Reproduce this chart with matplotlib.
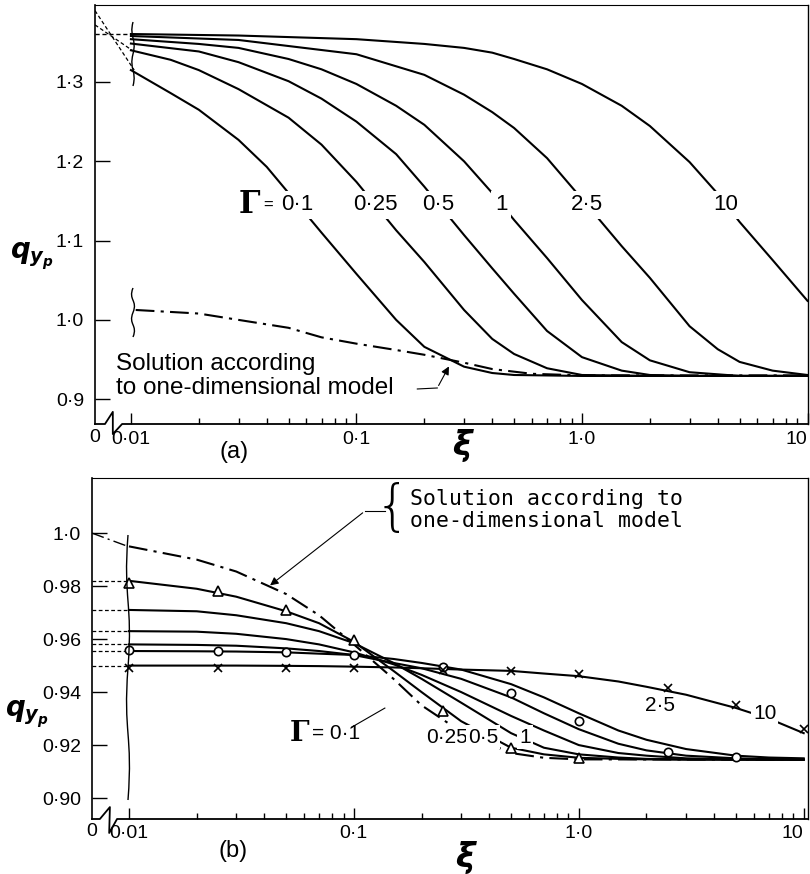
import matplotlib
matplotlib.use('Agg')
import matplotlib.pyplot as plt
from matplotlib.path import Path
from matplotlib.patches import PathPatch
from matplotlib import font_manager as fm
from matplotlib.transforms import blended_transform_factory

# ---------------- data: panel (a) ----------------
a_xi_g01 = [0.01, 0.015, 0.02, 0.03, 0.04, 0.05, 0.07, 0.1, 0.15, 0.2, 0.3, 0.4, 0.5, 1, 10]
a_q_g01 = [1.315, 1.286, 1.265, 1.227, 1.193, 1.160, 1.110, 1.058, 1.000, 0.966, 0.941, 0.933, 0.9305, 0.9293, 0.9293]

a_xi_g025 = [0.01, 0.015, 0.02, 0.03, 0.05, 0.07, 0.1, 0.15, 0.2, 0.3, 0.4, 0.5, 0.7, 1, 2, 10]
a_q_g025 = [1.340, 1.328, 1.315, 1.291, 1.255, 1.221, 1.174, 1.113, 1.073, 1.0125, 0.976, 0.957, 0.939, 0.9305, 0.9293, 0.9293]

a_xi_g05 = [0.01, 0.02, 0.03, 0.05, 0.07, 0.1, 0.15, 0.2, 0.3, 0.4, 0.5, 0.7, 1, 1.5, 2, 3, 10]
a_q_g05 = [1.3485, 1.3385, 1.325, 1.301, 1.279, 1.250, 1.209, 1.168, 1.107, 1.065, 1.033, 0.986, 0.953, 0.936, 0.9305, 0.9293, 0.9293]

a_xi_g1 = [0.01, 0.02, 0.03, 0.05, 0.07, 0.1, 0.15, 0.2, 0.3, 0.4, 0.5, 0.7, 1, 1.5, 2, 3, 5, 10]
a_q_g1 = [1.354, 1.348, 1.343, 1.329, 1.316, 1.2975, 1.270, 1.246, 1.200, 1.160, 1.126, 1.078, 1.025, 0.972, 0.949, 0.934, 0.9293, 0.9293]

a_xi_g25 = [0.01, 0.03, 0.1, 0.2, 0.3, 0.4, 0.5, 0.7, 1, 1.5, 2, 3, 4, 5, 7, 10]
a_q_g25 = [1.358, 1.353, 1.335, 1.309, 1.284, 1.262, 1.242, 1.204, 1.1525, 1.093, 1.053, 0.992, 0.963, 0.947, 0.936, 0.9305]

a_xi_g10 = [0.01, 0.03, 0.1, 0.2, 0.3, 0.4, 0.5, 0.7, 1, 1.5, 2, 3, 4, 5, 7, 10]
a_q_g10 = [1.3605, 1.3586, 1.354, 1.348, 1.343, 1.337, 1.329, 1.316, 1.2975, 1.270, 1.2445, 1.199, 1.159, 1.1235, 1.0755, 1.024]

a_gamma_labels = ['0·1', '0·25', '0·5', '1', '2·5', '10']
a_label_xi = [0.0548, 0.121, 0.231, 0.438, 1.05, 4.34]
a_label_q = 1.145

a_1d_xi = [0.0105, 0.02, 0.03, 0.05, 0.07, 0.1, 0.15, 0.2, 0.3, 0.4, 0.6, 1, 10]
a_1d_q = [1.0125, 1.008, 1.0, 0.99, 0.978, 0.970, 0.962, 0.956, 0.946, 0.938, 0.932, 0.930, 0.930]

a_yticks = [0.9, 1.0, 1.1, 1.2, 1.3]
a_yticklabels = ['0·9', '1·0', '1·1', '1·2', '1·3']

# ---------------- data: panel (b) ----------------
b_xi = [0.01, 0.02, 0.03, 0.05, 0.07, 0.1, 0.15, 0.2, 0.3, 0.5, 0.7, 1, 1.5, 2, 3, 5, 7, 10]
b_q_g01 = [0.982, 0.979, 0.976, 0.9705, 0.966, 0.959, 0.948, 0.940, 0.929, 0.919, 0.9165, 0.9152, 0.9148, 0.9146, 0.9145, 0.9145, 0.9145, 0.9145]
b_q_g025 = [0.971, 0.9705, 0.969, 0.966, 0.963, 0.9585, 0.951, 0.945, 0.936, 0.9245, 0.919, 0.9165, 0.9153, 0.9148, 0.9146, 0.9145, 0.9145, 0.9145]
b_q_g05 = [0.963, 0.9628, 0.962, 0.960, 0.958, 0.955, 0.9505, 0.9465, 0.940, 0.931, 0.9255, 0.920, 0.917, 0.916, 0.915, 0.9146, 0.9145, 0.9145]
b_q_g1 = [0.958, 0.9578, 0.9575, 0.9565, 0.9555, 0.954, 0.951, 0.949, 0.945, 0.938, 0.932, 0.926, 0.9205, 0.918, 0.916, 0.915, 0.9147, 0.9145]
b_q_g25 = [0.9555, 0.9554, 0.9553, 0.955, 0.9545, 0.954, 0.9525, 0.951, 0.9485, 0.943, 0.938, 0.932, 0.9255, 0.922, 0.9185, 0.916, 0.9153, 0.915]
b_q_g10 = [0.950, 0.950, 0.950, 0.9499, 0.9498, 0.9496, 0.9493, 0.949, 0.9485, 0.948, 0.947, 0.946, 0.944, 0.942, 0.939, 0.934, 0.930, 0.9245]

b_1d_xi = [0.01, 0.02, 0.03, 0.05, 0.07, 0.1, 0.15, 0.2, 0.3, 0.5, 0.7, 1, 10]
b_1d_q = [0.995, 0.990, 0.9855, 0.977, 0.969, 0.958, 0.945, 0.935, 0.925, 0.917, 0.9152, 0.9146, 0.9145]
b_1d_q0 = 1.0

b_tri_xi = [0.01, 0.025, 0.05, 0.1, 0.25, 0.5, 1.0]
b_tri_q = [0.981, 0.978, 0.971, 0.9595, 0.933, 0.919, 0.915]
b_circ_xi = [0.01, 0.025, 0.05, 0.1, 0.25, 0.5, 1.0, 2.5, 5]
b_circ_q = [0.956, 0.9555, 0.955, 0.954, 0.9495, 0.9395, 0.929, 0.9175, 0.9155]
b_cross_xi = [0.01, 0.025, 0.05, 0.1, 0.25, 0.5, 1.0, 2.5, 5, 10]
b_cross_q = [0.949, 0.949, 0.949, 0.949, 0.9485, 0.948, 0.947, 0.9415, 0.935, 0.926]

b_yticks = [0.90, 0.92, 0.94, 0.96, 0.98, 1.0]
b_yticklabels = ['0·90', '0·92', '0·94', '0·96', '0·98', '1·0']

x_major = [0.01, 0.1, 1, 10]
x_major_labels = ['0·01', '0·1', '1·0', '10']
x_minor = [k * d for d in (0.01, 0.1, 1) for k in range(2, 10)]

# ---------------- style ----------------
names = {f.name for f in fm.fontManager.ttflist}
TEXTFONT = 'Liberation Sans' if 'Liberation Sans' in names else 'DejaVu Sans'
MONOFONT = 'DejaVu Sans Mono' if 'DejaVu Sans Mono' in names else TEXTFONT
TICKFONT = TEXTFONT
plt.rcParams['font.family'] = ['DejaVu Sans']
plt.rcParams['mathtext.fontset'] = 'custom'
plt.rcParams['mathtext.it'] = 'DejaVu Sans:italic:bold'
plt.rcParams['mathtext.rm'] = 'DejaVu Sans'

W, H = 810, 874
fig = plt.figure(figsize=(W / 100, H / 100), dpi=100)


def fx(px):
    return px / W


def fy(py):
    return 1 - py / H


axA = fig.add_axes([fx(95), fy(424), (808 - 95) / W, (424 - 5) / H])
axB = fig.add_axes([fx(92), fy(819), (808 - 92) / W, (819 - 478) / H])

LW = 1.5
DASHDOT = (0, (9, 3, 1.5, 3))
TFS = 14

for ax, xl, yl in ((axA, (0.00693, 10.05), (0.8687, 1.3971)),
                   (axB, (0.00685, 10.45), (0.8921, 1.0208))):
    ax.set_xscale('log')
    ax.set_xlim(*xl)
    ax.set_ylim(*yl)
    ax.set_xticks(x_major)
    ax.set_xticklabels(x_major_labels, fontfamily=TICKFONT, fontsize=TFS)
    ax.get_xticklabels()[-1].set_horizontalalignment('right')
    ax.set_xticks(x_minor, minor=True)
    ax.tick_params(axis='x', which='major', direction='in', length=8, width=1, pad=4)
    ax.tick_params(axis='x', which='minor', direction='in', length=4, width=1)
    ax.tick_params(axis='y', which='both', direction='in', length=11, width=1, pad=8)
    ax.spines['bottom'].set_visible(False)
    ax.spines['left'].set_linewidth(1.2)
    ax.spines['top'].set_linewidth(0.8)
    ax.spines['right'].set_linewidth(1.0)
    ax.text(0, -0.012, '0', transform=ax.transAxes,
            ha='center', va='top', fontfamily=TICKFONT, fontsize=TFS)

axA.set_yticks(a_yticks)
axA.set_yticklabels(a_yticklabels, fontfamily=TICKFONT, fontsize=TFS)
axB.set_yticks(b_yticks)
axB.set_yticklabels(b_yticklabels, fontfamily=TICKFONT, fontsize=TFS)
axA.tick_params(axis='x', which='major', pad=5)

# axis break on bottom spine
axA.plot([0, 0.014, 0.025, 0.025, 0.038, 1], [0, 0, 0.029, -0.024, 0, 0],
         transform=axA.transAxes, color='black', lw=1.3, clip_on=False)
axB.plot([0, 0.011, 0.025, 0.024, 0.035, 1], [0, 0, 0.035, -0.041, 0, 0],
         transform=axB.transAxes, color='black', lw=1.3, clip_on=False)

# ---------------- panel (a) curves ----------------
a_series = [(a_xi_g01, a_q_g01), (a_xi_g025, a_q_g025), (a_xi_g05, a_q_g05),
            (a_xi_g1, a_q_g1), (a_xi_g25, a_q_g25), (a_xi_g10, a_q_g10)]
for xs, qs in a_series:
    axA.plot(xs, qs, color='black', lw=LW, zorder=2, solid_joinstyle='round')
axA.plot(a_1d_xi, a_1d_q, color='black', lw=LW, ls=DASHDOT, zorder=2)

for lab, xl in zip(a_gamma_labels, a_label_xi):
    axA.text(xl, a_label_q, lab, ha='center', va='center', fontfamily=TICKFONT, fontsize=16,
             zorder=4, bbox=dict(fc='white', ec='none', pad=2.5))
axA.text(0.0335, a_label_q, 'Γ', ha='center', va='center', fontfamily='DejaVu Serif',
         fontsize=22, fontweight='bold', zorder=4)
axA.text(0.0405, a_label_q, '=', ha='center', va='center', fontfamily=TICKFONT, fontsize=12, zorder=4)

# dashed extensions at top-left
tA = blended_transform_factory(axA.transAxes, axA.transData)
axA.plot([0, 0.05], [1.3605, 1.3605], transform=tA, color='black', lw=1.0, ls=(0, (3, 2)))
axA.plot([0, 0.055], [1.390, 1.315], transform=tA, color='black', lw=0.9, ls=(0, (3, 2)))
axA.plot([0, 0.052], [1.372, 1.340], transform=tA, color='black', lw=0.9, ls=(0, (3, 2)))


def squiggle(x0, y0, y1, amp, flip=1):
    # wavy vertical decoration drawn in figure pixel coordinates
    h = y1 - y0
    verts = [(x0, y0),
             (x0 - amp * flip, y0 + 0.25 * h), (x0 + amp * flip, y0 + 0.25 * h), (x0, y0 + 0.5 * h),
             (x0 - amp * flip, y0 + 0.75 * h), (x0 + amp * flip, y0 + 0.75 * h), (x0, y1)]
    verts = [(fx(a), fy(b)) for a, b in verts]
    codes = [Path.MOVETO] + [Path.CURVE4] * 6
    fig.patches.append(PathPatch(Path(verts, codes), transform=fig.transFigure,
                                 fill=False, lw=1.0, color='black'))


squiggle(133, 22, 86, 4)
squiggle(133, 288, 337, 5)
squiggle(128, 535, 800, 5)


def top_xy(px, py):
    return 10 ** (-2 + (px - 131) / 226), 1.3 - (py - 82) / 793


def bot_xy(px, py):
    return 10 ** (-2 + (px - 129) / 225), 1.0 - (py - 533) / 2650


# annotation (a)
axA.text(*top_xy(116, 376), 'Solution according\nto one-dimensional model', ha='left', va='center',
         fontfamily=TEXTFONT, fontsize=17.5, linespacing=1.1)
axA.plot(*zip(top_xy(418, 389), top_xy(438, 388)), color='black', lw=0.8)
axA.annotate('', xy=top_xy(451, 364), xytext=top_xy(438, 388),
             arrowprops=dict(arrowstyle='-|>', color='black', lw=0.8, mutation_scale=12))

# ---------------- panel (b) curves ----------------
tB = blended_transform_factory(axB.transAxes, axB.transData)
for qs in (b_q_g01, b_q_g025, b_q_g05, b_q_g1, b_q_g25, b_q_g10):
    axB.plot(b_xi, qs, color='black', lw=LW, zorder=2, solid_joinstyle='round')
    axB.plot([0, 0.05], [qs[0], qs[0]], transform=tB, color='black', lw=0.9, ls=(0, (3, 2)))
axB.plot(b_1d_xi, b_1d_q, color='black', lw=LW, ls=DASHDOT, zorder=2)
axB.plot([0, 0.05], [b_1d_q0, b_1d_q[0]], transform=tB, color='black', lw=1.0, ls=DASHDOT)

axB.plot(b_tri_xi, b_tri_q, ls='none', marker='^', ms=7, mfc='white', mec='black', mew=1.2, zorder=3)
axB.plot(b_circ_xi, b_circ_q, ls='none', marker='o', ms=6, mfc='white', mec='black', mew=1.2, zorder=3)
axB.plot(b_cross_xi, b_cross_q, ls='none', marker='x', ms=6, color='black', mew=1.2, zorder=3)

# Γ labels (b)
axB.text(*bot_xy(300, 733), 'Γ', ha='center', va='center', fontfamily='DejaVu Serif',
         fontsize=20, fontweight='bold', zorder=4)
axB.text(*bot_xy(312, 733), '= 0·1', ha='left', va='center', fontfamily=TICKFONT, fontsize=15, zorder=4)
axB.plot(*zip(bot_xy(352, 727), bot_xy(385, 708)), color='black', lw=0.8)
for lab, (px, py) in zip(['0·25', '0·5', '1', '2·5', '10'],
                         [(447, 737), (483, 737), (525, 737), (660, 705), (765, 713)]):
    axB.text(*bot_xy(px, py), lab, ha='center', va='center', fontfamily=TICKFONT, fontsize=15,
             zorder=4, bbox=dict(fc='white', ec='none', pad=1.5))

axB.text(*bot_xy(410, 510), 'Solution according to\none-dimensional model', ha='left', va='center',
         fontfamily=MONOFONT, fontsize=15.5, linespacing=1.1)
fig.text(fx(392), fy(509), '{', ha='center', va='center', fontsize=40, fontweight='light')
axB.plot(*zip(bot_xy(385, 511), bot_xy(365, 511)), color='black', lw=0.8)
axB.annotate('', xy=bot_xy(268, 587), xytext=bot_xy(365, 511),
             arrowprops=dict(arrowstyle='-|>', color='black', lw=0.8, mutation_scale=12))

# ---------------- figure labels ----------------
fig.text(fx(32), fy(256), r'$q_{y_p}$', ha='center', va='center', fontsize=20)
fig.text(fx(27), fy(714), r'$q_{y_p}$', ha='center', va='center', fontsize=20)
fig.text(fx(463), fy(445), r'$\xi$', ha='center', va='center', fontsize=24)
fig.text(fx(466), fy(857), r'$\xi$', ha='center', va='center', fontsize=24)
fig.text(fx(234), fy(452), '(a)', ha='center', va='center', fontfamily=TEXTFONT, fontsize=17)
fig.text(fx(233), fy(851), '(b)', ha='center', va='center', fontfamily=TEXTFONT, fontsize=17)

fig.savefig('out.png', dpi=100)
